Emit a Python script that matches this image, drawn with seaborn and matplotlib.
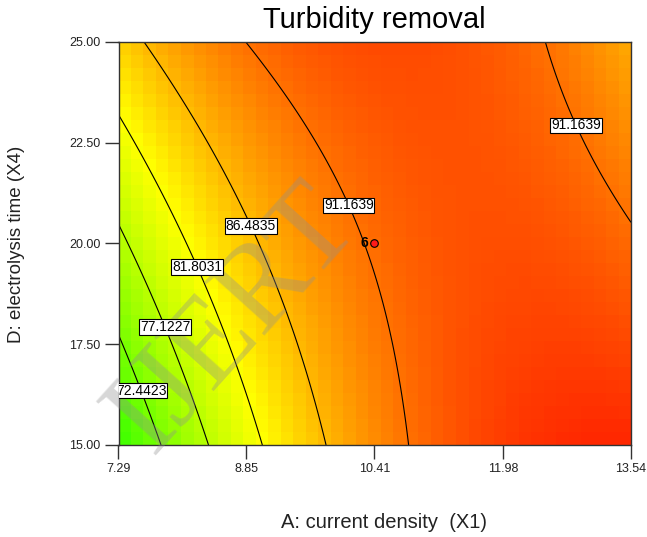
import numpy as np
import pandas as pd
import matplotlib
matplotlib.use("Agg")
import matplotlib.pyplot as plt
import seaborn as sns
from matplotlib.colors import LinearSegmentedColormap

# ---------------- data ----------------
levels = [72.4423, 77.1227, 81.8031, 86.4835, 91.1639]
L0, L1, L2, L3, L4 = levels

# points lying on the contour lines (A: current density, D: electrolysis time, level)
pts_x = [7.807, 8.387, 9.036, 9.814, 10.836, 7.61, 8.837, 12.49,
         7.29, 7.29, 7.29, 13.54, 7.572, 7.87, 8.245, 8.90, 10.08, 12.88, 10.325]
pts_y = [15, 15, 15, 15, 15, 25, 25, 25,
         17.68, 20.46, 23.19, 20.52, 16.39, 17.93, 19.42, 20.43, 20.93, 22.94, 20.0]
pts_z = [L0, L1, L2, L3, L4, L3, L4, L4,
         L0, L1, L2, L4, L0, L1, L2, L3, L4, L4, L4]

# contour label positions (data coords)
label_x = [7.64, 7.87, 8.245, 8.90, 10.08, 12.88]
label_y = [16.41, 17.93, 19.42, 20.43, 20.93, 22.94]

x_ticks = [7.29, 8.85, 10.41, 11.98, 13.54]
x_ticklabels = ["7.29", "8.85", "10.41", "11.98", "13.54"]
y_ticks = [15.0, 17.5, 20.0, 22.5, 25.0]
y_ticklabels = ["15.00", "17.50", "20.00", "22.50", "25.00"]

design_x = [10.41]
design_y = [20.0]
design_n = ["6"]

title = "Turbidity removal"
xlabel = "A: current density  (X1)"
ylabel = "D: electrolysis time (X4)"

# ---------------- quadratic response surface fitted to the read points ----------------
px = np.array(pts_x); py = np.array(pts_y); pz = np.array(pts_z)
def design(x, y):
    xc = (x - 10.415) / 3.125
    yc = (y - 20.0) / 5.0
    return np.stack([np.ones_like(xc), xc, yc, xc**2, yc**2, xc*yc], axis=-1)
coef, *_ = np.linalg.lstsq(design(px, py), pz, rcond=None)
def model(x, y):
    return design(x, y) @ coef

sns.set_theme(style="white")
plt.rcParams['font.family'] = ['Liberation Sans', 'DejaVu Sans']

fig = plt.figure(figsize=(6.47, 5.37), dpi=100)
ax = fig.add_axes([118.5/647, 1-445/537, (631-118.5)/647, (445-42)/537])

xmin, xmax, ymin, ymax = 7.29, 13.54, 15.0, 25.0
# blocky colour grid like the original
xe = np.linspace(xmin, xmax, 42)
ye = np.linspace(ymin, ymax, 32)
xcn = 0.5*(xe[1:]+xe[:-1]); ycn = 0.5*(ye[1:]+ye[:-1])
XC, YC = np.meshgrid(xcn, ycn)
ZC = model(XC, YC)

xf = np.linspace(xmin, xmax, 300)
yf = np.linspace(ymin, ymax, 300)
XF, YF = np.meshgrid(xf, yf)
ZF = model(XF, YF)

zmin, zmax = ZF.min(), ZF.max()
ymid = (82.0 - zmin) / (zmax - zmin)
cmap = LinearSegmentedColormap.from_list(
    "de", [(0.0, (0.22, 1.0, 0.0)), (ymid, (1.0, 1.0, 0.0)), (1.0, (1.0, 0.15, 0.0))])
ax.pcolormesh(xe, ye, ZC, cmap=cmap, vmin=zmin, vmax=zmax, shading='flat')

cs = ax.contour(XF, YF, ZF, levels=levels, colors='black', linewidths=0.8)
texts = ax.clabel(cs, inline=False, fmt='%.4f', fontsize=10,
                  manual=list(zip(label_x, label_y)))
for t in texts:
    t.set_rotation(0)
    t.set_color('black')
    t.set_zorder(7)
    t.set_bbox(dict(facecolor='white', edgecolor='black', linewidth=0.8, pad=0.6))

# watermark
ax.text(8.7, 18.1, "IJERT", rotation=48, fontsize=88, family='Liberation Serif',
        color='#909090', alpha=0.36, ha='center', va='center', zorder=4)

# design point
sns.scatterplot(x=design_x, y=design_y, ax=ax, s=30, color='#ff1a1a',
                edgecolor='black', linewidth=0.8, zorder=6, legend=False)
for dx, dy, n in zip(design_x, design_y, design_n):
    ax.text(dx - 0.08, dy, n, ha='right', va='center', fontsize=10,
            fontweight='bold', color='black', zorder=6)

ax.set_xlim(xmin, xmax); ax.set_ylim(ymin, ymax)
ax.set_xticks(x_ticks); ax.set_xticklabels(x_ticklabels)
ax.set_yticks(y_ticks); ax.set_yticklabels(y_ticklabels)
ax.tick_params(axis='both', direction='out', length=10, width=1, color='#333333',
               labelsize=9, labelcolor='#222222', pad=3)
ax.tick_params(bottom=True, left=True)
for s in ax.spines.values():
    s.set_color('#333333'); s.set_linewidth(1)
ax.set_xlabel(""); ax.set_ylabel("")

fig.text(374/647, 1-20/537, title, ha='center', va='center', fontsize=21, color='black')
fig.text(384/647, 1-522/537, xlabel, ha='center', va='center', fontsize=14.5, color='#222222')
fig.text(17/647, 1-244/537, ylabel, ha='center', va='center', rotation=90,
         fontsize=13.5, color='#222222')

fig.savefig("out.png", dpi=100)
